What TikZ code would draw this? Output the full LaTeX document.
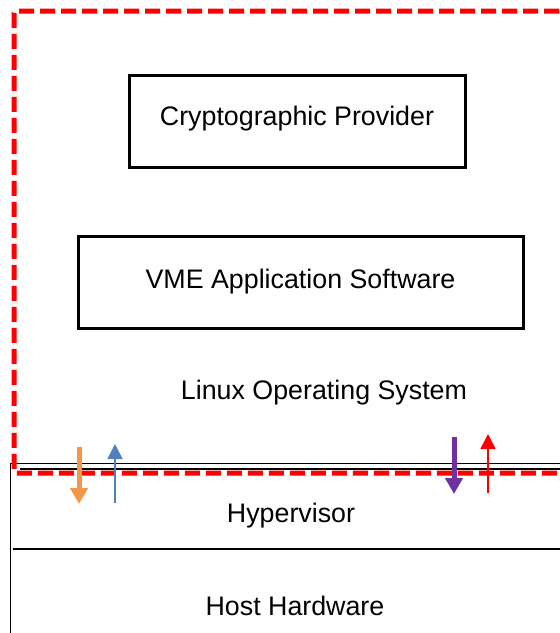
\documentclass[tikz,border=0pt]{standalone}
\usepackage{fontspec}
\setmainfont{Liberation Sans}
\usetikzlibrary{positioning,calc,arrows.meta}
\tikzset{>=stealth}
\definecolor{tzred}{RGB}{255,0,0}
\definecolor{tzorange}{RGB}{247,150,70}
\definecolor{tzblue}{RGB}{79,129,189}
\definecolor{tzpurple}{RGB}{112,48,160}
\tikzset{
  label text/.style={font=\fontsize{26.8}{30}\selectfont,inner sep=0pt},
  layerbox/.style={label text,draw,line width=3pt,minimum width=#1,minimum height=92pt,
    text height=19pt,text depth=11pt},
  fat arrow/.style={line width=5pt,-{Triangle[width=17pt,length=16pt]}},
  thin arrow/.style={line width=1.5pt,-{Triangle[width=15pt,length=15pt]}}
}

\begin{document}
\begin{tikzpicture}[x=1pt,y=-1pt]
\useasboundingbox (0,0) rectangle (560,633);
% hypervisor and hardware layers
\draw[line width=1pt] (10,633) -- (10,463) -- (580,463);
\draw[line width=2pt] (20,469) -- (580,469);
\draw[line width=2pt] (13,549) -- (580,549);
\node[label text,anchor=base] (hyp) at (291,522) {Hypervisor};
\node[label text,anchor=base] (hw) at (295,615) {Host Hardware};
% guest
\node[layerbox=336pt] (crypto) at (297,121) {Cryptographic Provider};
\node[layerbox=445pt,text height=20pt,text depth=9pt] (vme) at (300.5,282.5) {VME Application Software};
\node[label text,anchor=base] (linux) at (324,399) {Linux Operating System};
% boundary
\draw[tzred,line width=5pt,dash pattern=on 15pt off 6pt,rounded corners=2pt]
  (580,11) -- (14,11) -- (14,473) -- (580,473);
% traffic
\coordinate (o1) at (79,447);
\coordinate (o2) at (79,504);
\coordinate (b1) at (115,503);
\coordinate (b2) at (115,444);
\coordinate (p1) at (454,437);
\coordinate (p2) at (454,494);
\coordinate (r1) at (488,493);
\coordinate (r2) at (488,434);
\draw[fat arrow,tzorange] (o1) -- (o2);
\draw[thin arrow,tzblue] (b1) -- (b2);
\draw[fat arrow,tzpurple] (p1) -- (p2);
\draw[thin arrow,tzred] (r1) -- (r2);
\end{tikzpicture}
\end{document}
